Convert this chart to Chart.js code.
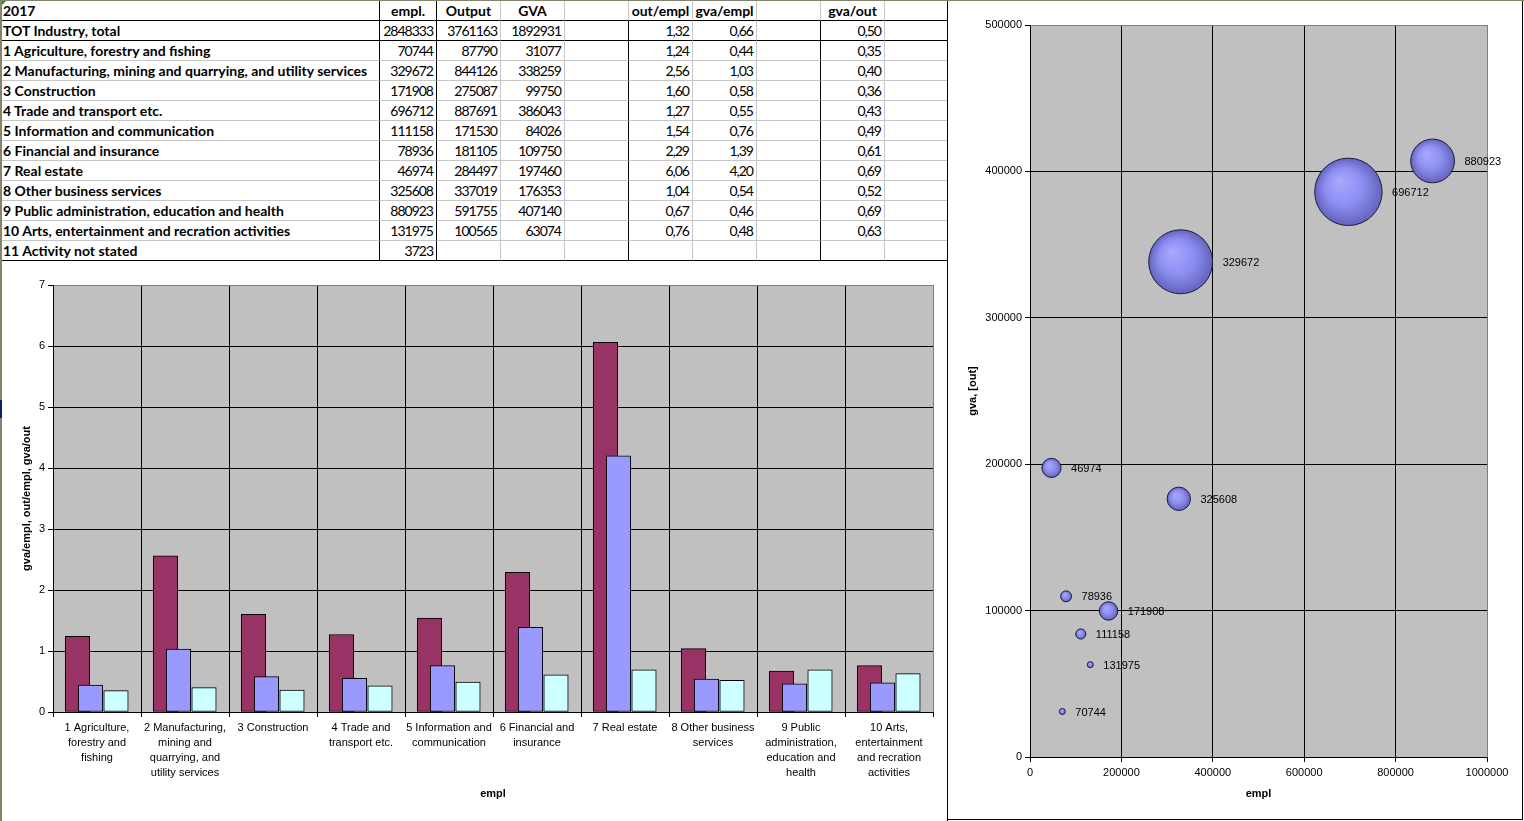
<!DOCTYPE html>
<html lang="en">
<head>
    <meta charset="UTF-8"/>
    <title>2017 industry: output, GVA and employment</title>
    <style>
        html, body {
            margin: 0;
            padding: 0;
            background: #fff;
            overflow: hidden;
        }

        body {
            width: 1524px;
            height: 821px;
            position: relative;
        }

        #sheet {
            position: absolute;
            left: 0;
            top: 0;
            width: 948px;
            height: 262px;
            font-family: 'Lato', sans-serif;
            font-size: 14px;
            color: #000;
        }

        .cell {
            position: absolute;
            height: 20px;
            box-sizing: border-box;
            border-right: 1px solid #c6c6c6;
            border-bottom: 1px solid #c6c6c6;
            line-height: 19px;
            padding: 0 2px;
            white-space: nowrap;
            overflow: hidden;
        }

        .num { text-align: right; letter-spacing: -1px; padding-right: 3px; }
        .head { text-align: center; font-weight: 700; }
        .name { font-weight: 700; text-align: left; padding-left: 3px; }
        .br { border-right-color: #000; }
        .bb { border-bottom-color: #000; }

        #flag {
            position: absolute;
            left: 1px;
            top: 1px;
            width: 0;
            height: 0;
            border-top: 5px solid #1f8a1f;
            border-right: 5px solid transparent;
        }

        #barBox {
            position: absolute;
            left: 0;
            top: 262px;
            width: 947px;
            height: 558px;
        }

        #bubbleBox {
            position: absolute;
            left: 949px;
            top: 1px;
            width: 573px;
            height: 818px;
        }

        #divider {
            position: absolute;
            left: 947px;
            top: 0;
            width: 1px;
            height: 821px;
            background: #000;
        }

        #bubbleFrame {
            position: absolute;
            left: 948px;
            top: 0;
            width: 575px;
            height: 820px;
            box-sizing: border-box;
            border-right: 1px solid #000;
            border-bottom: 1px solid #000;
        }

        #frameLeft {
            position: absolute;
            left: 0;
            top: 0;
            width: 2px;
            height: 821px;
            background: #85856d;
        }

        #frameTop {
            position: absolute;
            left: 0;
            top: 0;
            width: 1524px;
            height: 1px;
            background: #85856d;
        }

        #selMark {
            position: absolute;
            left: 0;
            top: 400px;
            width: 2px;
            height: 18px;
            background: #0a246a;
        }
    </style>
    <script src="https://cdn.jsdelivr.net/npm/chart.js@4/dist/chart.umd.min.js"></script>
</head>
<body>
<div id="sheet"></div>
<div id="barBox"><canvas id="bars"></canvas></div>
<div id="bubbleFrame"></div>
<div id="bubbleBox"><canvas id="bubbles"></canvas></div>
<div id="divider"></div>
<div id="frameLeft"></div>
<div id="frameTop"></div>
<div id="selMark"></div>

<script>
    // Sheet data (row 0 = total, rows 1-10 = sectors, row 11 = not stated)
    const rowNames = [
        'TOT Industry, total',
        '1 Agriculture, forestry and fishing',
        '2 Manufacturing, mining and quarrying, and utility services',
        '3 Construction',
        '4 Trade and transport etc.',
        '5 Information and communication',
        '6 Financial and insurance',
        '7 Real estate',
        '8 Other business services',
        '9 Public administration, education and health',
        '10 Arts, entertainment and recration activities',
        '11 Activity not stated'
    ];
    const empl = [2848333, 70744, 329672, 171908, 696712, 111158, 78936, 46974, 325608, 880923, 131975, 3723];
    const output = [3761163, 87790, 844126, 275087, 887691, 171530, 181105, 284497, 337019, 591755, 100565, null];
    const gva = [1892931, 31077, 338259, 99750, 386043, 84026, 109750, 197460, 176353, 407140, 63074, null];
    const outPerEmpl = [1.32, 1.24, 2.56, 1.60, 1.27, 1.54, 2.29, 6.06, 1.04, 0.67, 0.76, null];
    const gvaPerEmpl = [0.66, 0.44, 1.03, 0.58, 0.55, 0.76, 1.39, 4.20, 0.54, 0.46, 0.48, null];
    const gvaPerOut = [0.50, 0.35, 0.40, 0.36, 0.43, 0.49, 0.61, 0.69, 0.52, 0.69, 0.63, null];

    const headers = ['2017', 'empl.', 'Output', 'GVA', '', 'out/empl', 'gva/empl', '', 'gva/out', ''];

    // Wrapped category labels for the bar chart axis
    const tickLabels = [
        ['1 Agriculture,', 'forestry and', 'fishing'],
        ['2 Manufacturing,', 'mining and', 'quarrying, and', 'utility services'],
        ['3 Construction'],
        ['4 Trade and', 'transport etc.'],
        ['5 Information and', 'communication'],
        ['6 Financial and', 'insurance'],
        ['7 Real estate'],
        ['8 Other business', 'services'],
        ['9 Public', 'administration,', 'education and', 'health'],
        ['10 Arts,', 'entertainment', 'and recration', 'activities']
    ];

    // Sectors 1-10 only
    const sectorEmpl = empl.slice(1, 11);
    const sectorOutput = output.slice(1, 11);
    const sectorGva = gva.slice(1, 11);
    const barOutEmpl = outPerEmpl.slice(1, 11);
    const barGvaEmpl = gvaPerEmpl.slice(1, 11);
    const barGvaOut = gvaPerOut.slice(1, 11);

    // ---- Spreadsheet ----
    const colX = [0, 380, 437, 501, 565, 629, 693, 757, 821, 885, 948];
    const sheet = document.getElementById('sheet');

    function fmtRatio(v) {
        return v == null ? '' : v.toFixed(2).replace('.', ',');
    }

    function addCell(r, c, text, cls) {
        const d = document.createElement('div');
        d.className = 'cell ' + cls;
        d.style.left = colX[c] + 'px';
        d.style.top = (1 + r * 20) + 'px';
        d.style.width = (colX[c + 1] - colX[c]) + 'px';
        if (c === 0 || c === 1 || c === 9 || (r > 0 && (c === 4 || c === 7))) d.classList.add('br');
        if (r === 0 || r === 1 || r === rowNames.length) d.classList.add('bb');
        d.textContent = text;
        sheet.appendChild(d);
    }

    headers.forEach((h, c) => addCell(0, c, h, c === 0 ? 'name' : 'head'));
    rowNames.forEach((name, i) => {
        const vals = [name,
            empl[i] == null ? '' : String(empl[i]),
            output[i] == null ? '' : String(output[i]),
            gva[i] == null ? '' : String(gva[i]),
            '',
            fmtRatio(outPerEmpl[i]),
            fmtRatio(gvaPerEmpl[i]),
            '',
            fmtRatio(gvaPerOut[i]),
            ''];
        vals.forEach((v, c) => addCell(i + 1, c, v, c === 0 ? 'name' : 'num'));
    });
    const flag = document.createElement('div');
    flag.id = 'flag';
    sheet.appendChild(flag);

    // ---- Charts ----
    Chart.defaults.font.family = "'Liberation Sans', Arial, sans-serif";
    Chart.defaults.font.size = 11;
    Chart.defaults.color = '#000';

    const plotBg = {
        id: 'plotBg',
        beforeDraw(chart) {
            const {ctx, chartArea: a} = chart;
            ctx.save();
            ctx.fillStyle = '#c0c0c0';
            ctx.fillRect(a.left, a.top, a.right - a.left, a.bottom - a.top);
            ctx.restore();
        }
    };

    const titleFont = {size: 11, weight: 'bold'};

    // Each series sits on its own hidden index axis, nudged sideways (in px of an 88px
    // category) so the first two bars overlap the way the spreadsheet drew them.
    const CAT_PX = 88;

    function shiftedAxis(px) {
        return {
            type: 'linear',
            display: false,
            offset: false,
            min: -0.5 - px / CAT_PX,
            max: tickLabels.length - 0.5 - px / CAT_PX
        };
    }

    function barSet(label, values, axis, color) {
        return {
            label,
            data: values.map((v, i) => ({x: i, y: v})),
            xAxisID: axis,
            backgroundColor: color,
            borderColor: '#000',
            borderWidth: 1,
            borderSkipped: false,
            grouped: false,
            barThickness: 24.5,
            categoryPercentage: 1,
            barPercentage: 1
        };
    }

    new Chart(document.getElementById('bars'), {
        type: 'bar',
        data: {
            labels: tickLabels,
            datasets: [
                barSet('gva/empl', barGvaEmpl, 'xb', '#9999ff'),
                barSet('gva/out', barGvaOut, 'xc', '#ccffff'),
                barSet('out/empl', barOutEmpl, 'xm', '#993366')
            ]
        },
        options: {
            animation: false,
            responsive: true,
            maintainAspectRatio: false,
            layout: {padding: {top: 23, right: 14, left: 0, bottom: 0}},
            scales: {
                x: {
                    type: 'category',
                    offset: true,
                    afterFit: s => { s.height = 108; },
                    grid: {
                        offset: true,
                        color: c => c.tick ? '#000' : '#808080',
                        tickColor: '#000',
                        tickLength: 5
                    },
                    border: {color: '#000'},
                    ticks: {
                        autoSkip: false,
                        maxRotation: 0,
                        padding: 3,
                        font: {size: 11, lineHeight: '15px'}
                    },
                    title: {display: true, text: 'empl', font: titleFont, padding: {top: 0, bottom: 19}}
                },
                xm: shiftedAxis(-19.5),
                xb: shiftedAxis(-6.5),
                xc: shiftedAxis(19),
                y: {
                    min: 0,
                    max: 7,
                    afterFit: s => { s.width = 53; },
                    grid: {
                        color: c => c.tick && c.tick.value === 7 ? '#808080' : '#000',
                        tickColor: '#000',
                        tickLength: 5
                    },
                    border: {color: '#000'},
                    ticks: {stepSize: 1, padding: 3},
                    title: {display: true, text: 'gva/empl, out/empl, gva/out', font: titleFont, padding: {top: 20, bottom: 0}}
                }
            },
            plugins: {legend: {display: false}, tooltip: {enabled: false}}
        },
        plugins: [plotBg]
    });

    // Bubble chart: x = empl, y = GVA, bubble size from output
    function bubbleRadius(out) {
        return Math.max(3, out / 25000 - 1.8);
    }

    const bubbleShade = {
        id: 'bubbleShade',
        beforeDatasetsDraw(chart) {
            const {ctx} = chart;
            chart.getDatasetMeta(0).data.forEach(el => {
                const r = el.options.radius;
                const g = ctx.createRadialGradient(el.x - r * 0.3, el.y - r * 0.35, 0, el.x, el.y, r);
                g.addColorStop(0, '#a9a9ff');
                g.addColorStop(0.55, '#8e8ef2');
                g.addColorStop(1, '#6464bd');
                ctx.save();
                ctx.beginPath();
                ctx.arc(el.x, el.y, r, 0, Math.PI * 2);
                ctx.fillStyle = g;
                ctx.fill();
                ctx.restore();
            });
        },
        afterDatasetsDraw(chart) {
            const {ctx} = chart;
            ctx.save();
            ctx.font = "11px 'Liberation Sans', Arial, sans-serif";
            ctx.fillStyle = '#000';
            ctx.textBaseline = 'middle';
            chart.getDatasetMeta(0).data.forEach((el, i) => {
                ctx.fillText(String(sectorEmpl[i]), el.x + el.options.radius + 10, el.y + 1);
            });
            ctx.restore();
        }
    };

    new Chart(document.getElementById('bubbles'), {
        type: 'bubble',
        data: {
            datasets: [{
                label: 'gva',
                data: sectorEmpl.map((e, i) => ({x: e, y: sectorGva[i], r: bubbleRadius(sectorOutput[i])})),
                backgroundColor: 'rgba(0,0,0,0)',
                borderColor: '#1c1c3a',
                borderWidth: 1
            }]
        },
        options: {
            animation: false,
            responsive: true,
            maintainAspectRatio: false,
            layout: {autoPadding: false, padding: {top: 24, right: 35, left: 0, bottom: 0}},
            scales: {
                x: {
                    type: 'linear',
                    min: 0,
                    max: 1000000,
                    afterFit: s => { s.height = 62; },
                    grid: {
                        color: c => c.tick && c.tick.value === 1000000 ? '#808080' : '#000',
                        tickColor: '#000',
                        tickLength: 5
                    },
                    border: {color: '#000'},
                    ticks: {stepSize: 200000, padding: 4, callback: v => String(v)},
                    title: {display: true, text: 'empl', font: titleFont, padding: {top: 0, bottom: 18}}
                },
                y: {
                    min: 0,
                    max: 500000,
                    afterFit: s => { s.width = 81; },
                    grid: {
                        color: c => c.tick && c.tick.value === 500000 ? '#808080' : '#000',
                        tickColor: '#000',
                        tickLength: 5
                    },
                    border: {color: '#000'},
                    ticks: {stepSize: 100000, padding: 3, callback: v => String(v)},
                    title: {display: true, text: 'gva, [out]', font: titleFont, padding: {top: 17, bottom: 0}}
                }
            },
            plugins: {legend: {display: false}, tooltip: {enabled: false}}
        },
        plugins: [plotBg, bubbleShade]
    });
</script>
</body>
</html>
